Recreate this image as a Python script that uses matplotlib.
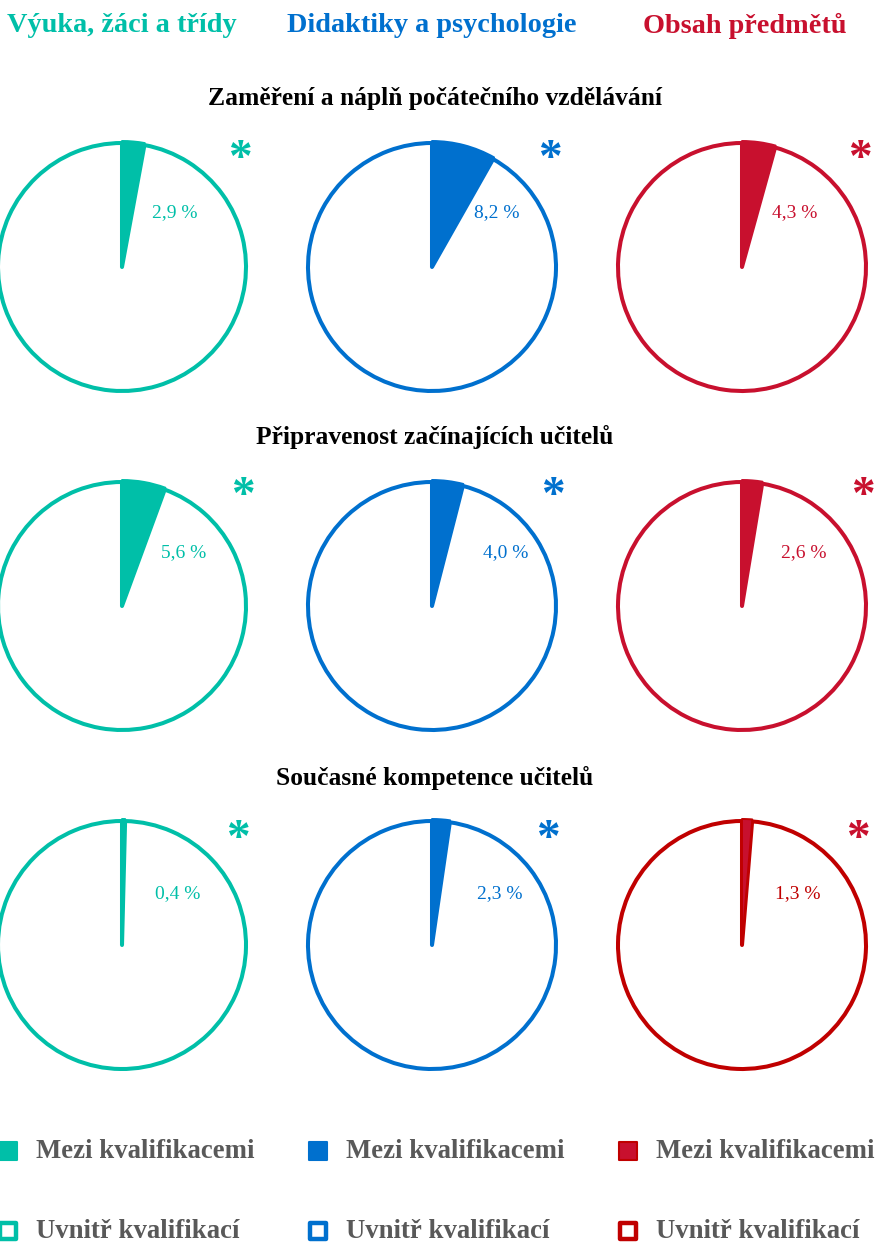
import matplotlib.pyplot as plt

plt.rcParams['font.family'] = ['Liberation Serif', 'DejaVu Serif']

W, H = 880, 1248

groups = ["Výuka, žáci a třídy", "Didaktiky a psychologie", "Obsah předmětů"]
group_colors = ["#00BFA8", "#0070CE", "#C8102E"]
row_titles = [
    "Zaměření a náplň počátečního vzdělávání",
    "Připravenost začínajících učitelů",
    "Současné kompetence učitelů",
]
# share "Mezi kvalifikacemi" in %, rows x groups
between = [
    [2.9, 8.2, 4.3],
    [5.6, 4.0, 2.6],
    [0.4, 2.3, 1.3],
]
legend_labels = ["Mezi kvalifikacemi", "Uvnitř kvalifikací"]

# layout in pixels (top-left origin)
col_x = [122, 432, 742]
row_y = [267, 606, 945]
radius = 124
title_y = [99, 437, 778]
label_off = [(53, -54), (62, -53), (56, -51)]
star_off = [(118, -115), (121, -117), (116, -113)]
edge_override = {(2, 2): "#C00000"}

fig = plt.figure(figsize=(W / 100, H / 100), dpi=100)
ax = fig.add_axes([0, 0, 1, 1])


def fy(y):
    return H - y


for r in range(3):
    for c in range(3):
        col = group_colors[c]
        edge = edge_override.get((r, c), col)
        p = between[r][c]
        cx, cy = col_x[c], fy(row_y[r])
        ax.pie([1 - p / 100], colors=["white"], startangle=90 - 360 * p / 100,
               counterclock=False, radius=radius, center=(cx, cy),
               wedgeprops=dict(edgecolor=edge, linewidth=2.9, joinstyle="round"),
               normalize=False)
        ax.pie([p / 100], colors=[col], startangle=90, counterclock=False,
               radius=radius + 2, center=(cx, cy),
               wedgeprops=dict(edgecolor=edge, linewidth=1.4, joinstyle="round"),
               normalize=False)
        lx, ly = label_off[r]
        ax.text(cx + lx + (c == 1) * 12, cy - ly,
                f"{p:.1f} %".replace(".", ","), color=col if (r, c) != (2, 2) else "#C00000",
                fontsize=14, ha="center", va="center")
        sx, sy = star_off[r]
        ax.text(cx + sx, cy - sy - 8, "*", color=col, fontsize=34,
                fontweight="bold", ha="center", va="center")

for c in range(3):
    ax.text(col_x[c] + (c == 2) * 3, fy(26), groups[c], color=group_colors[c],
            fontsize=20.3, fontweight="bold", ha="center", va="center")

for r in range(3):
    ax.text(435, fy(title_y[r]), row_titles[r], color="black", fontsize=18.4,
            fontweight="bold", ha="center", va="center")

leg_x = [8, 318, 628]
leg_y = [1151, 1231]
for c in range(3):
    col = group_colors[c]
    edge = "#C00000" if c == 2 else col
    for i, lab in enumerate(legend_labels):
        y = fy(leg_y[i])
        if i == 0:
            ax.scatter([leg_x[c]], [y], marker="s", s=170, color=col,
                       edgecolor=edge, linewidth=1.5)
        else:
            ax.scatter([leg_x[c]], [y], marker="s", s=120, color="white",
                       edgecolor=edge, linewidth=3.2)
        ax.text(leg_x[c] + 28, y, lab, color="#595959", fontsize=19.3,
                fontweight="bold", ha="left", va="center")

ax.set_xlim(0, W)
ax.set_ylim(0, H)
ax.set_aspect("auto")
ax.axis("off")

fig.savefig("out.png", dpi=100)
